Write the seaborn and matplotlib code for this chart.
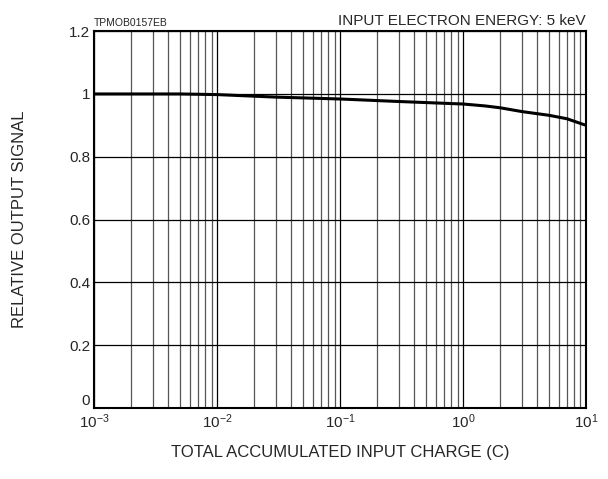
import matplotlib
matplotlib.use("Agg")
import matplotlib.pyplot as plt
import seaborn as sns
import pandas as pd
from matplotlib.ticker import LogLocator, FixedLocator, NullFormatter

# values
charge = [1e-3, 3e-3, 5e-3, 1e-2, 3e-2, 1e-1, 3e-1, 1.0, 1.5, 2.0, 3.0, 5.0, 7.0, 10.0]
signal = [1.0, 1.0, 1.0, 0.998, 0.99, 0.984, 0.976, 0.968, 0.962, 0.956, 0.944, 0.932, 0.921, 0.90]
yticks = [0, 0.2, 0.4, 0.6, 0.8, 1, 1.2]
ytick_labels = ["0", "0.2", "0.4", "0.6", "0.8", "1", "1.2"]
xticks = [1e-3, 1e-2, 1e-1, 1e0, 1e1]
xtick_labels = ["$10^{-3}$", "$10^{-2}$", "$10^{-1}$", "$10^{0}$", "$10^{1}$"]

data = pd.DataFrame({"charge": charge, "signal": signal})

sns.set_style("white")
plt.rcParams['font.family'] = ['Liberation Sans', 'DejaVu Sans']
plt.rcParams['mathtext.default'] = 'regular'
plt.rcParams['axes.unicode_minus'] = False

fig = plt.figure(figsize=(6.08, 4.79), dpi=100)
ax = fig.add_axes([0.155, 0.148, 0.809, 0.787])

sns.lineplot(data=data, x="charge", y="signal", color="black", linewidth=2.2, ax=ax)

ax.set_xscale("log")
ax.set_xlim(1e-3, 1e1)
ax.set_ylim(0, 1.2)
ax.yaxis.set_major_locator(FixedLocator(yticks))
ax.set_yticklabels(ytick_labels)
ax.get_yticklabels()[0].set_va("bottom")
ax.xaxis.set_major_locator(FixedLocator(xticks))
ax.set_xticklabels(xtick_labels)
ax.xaxis.set_minor_locator(LogLocator(base=10, subs=range(2, 10), numticks=50))
ax.xaxis.set_minor_formatter(NullFormatter())

ax.grid(True, which="major", axis="both", color="black", linewidth=0.9)
ax.grid(True, which="minor", axis="x", color="#555555", linewidth=0.9)
ax.tick_params(axis="both", which="both", length=0, labelsize=11)
ax.tick_params(axis="x", pad=3)
ax.tick_params(axis="y", pad=3)
for s in ax.spines.values():
    s.set_color("black")
    s.set_linewidth(1.5)

ax.set_xlabel("TOTAL ACCUMULATED INPUT CHARGE (C)", fontsize=12, labelpad=10)
ax.set_ylabel("RELATIVE OUTPUT SIGNAL", fontsize=12, labelpad=30)

ax.text(0.0, 1.008, "TPMOB0157EB", transform=ax.transAxes, fontsize=7.5,
        ha="left", va="bottom")
ax.text(1.0, 1.008, "INPUT ELECTRON ENERGY: 5 keV", transform=ax.transAxes,
        fontsize=11, ha="right", va="bottom")

plt.savefig("out.png", dpi=100)
